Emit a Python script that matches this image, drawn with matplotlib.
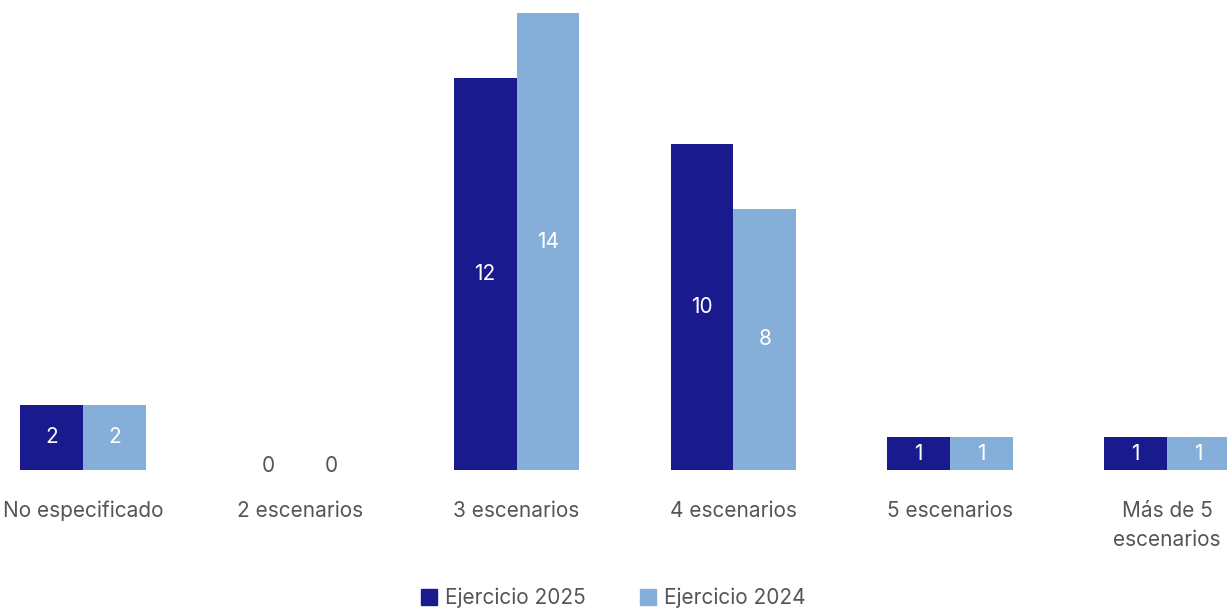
import matplotlib

matplotlib.use("Agg")

import matplotlib.pyplot as plt
import numpy as np
from matplotlib.patches import Patch

# Datos del gráfico
categorias = ["No especificado", "2 escenarios", "3 escenarios",
              "4 escenarios", "5 escenarios", "Más de 5\nescenarios"]
ejercicio_2025 = [2, 0, 12, 10, 1, 1]
ejercicio_2024 = [2, 0, 14, 8, 1, 1]
series_labels = ["Ejercicio 2025", "Ejercicio 2024"]

color_2025 = "#1a1a8f"
color_2024 = "#85aed8"
text_gray = "#555555"

plt.rcParams["font.family"] = ["Inter", "DejaVu Sans"]

fig = plt.figure(figsize=(12.27, 6.10), dpi=100)
ax = fig.add_axes([0.0, 1 - 470 / 610, 1.0, 457 / 610])

x = np.arange(len(categorias))
width = 0.29

bars_a = ax.bar(x - width / 2, ejercicio_2025, width, color=color_2025)
bars_b = ax.bar(x + width / 2, ejercicio_2024, width, color=color_2024)

for bars in (bars_a, bars_b):
    for b in bars:
        h = b.get_height()
        cx = b.get_x() + b.get_width() / 2
        if h > 0:
            ax.text(cx, h / 2, f"{h:g}", ha="center", va="center",
                    color="white", fontsize=15)
        else:
            ax.text(cx, 0.12, "0", ha="center", va="center",
                    color=text_gray, fontsize=15)

ax.set_xlim(-0.383, 5.277)
ax.set_ylim(0, 14)
ax.set_xticks(x)
ax.set_xticklabels(categorias, fontsize=15, color=text_gray, linespacing=1.6)
ax.tick_params(axis="x", length=0, pad=22)
ax.set_yticks([])
for s in ax.spines.values():
    s.set_visible(False)

handles = [Patch(color=color_2025), Patch(color=color_2024)]
fig.legend(handles, series_labels, loc="center", bbox_to_anchor=(0.5, 1 - 598 / 610),
           ncol=2, frameon=False, fontsize=15, handlelength=0.75, handleheight=0.75,
           handletextpad=0.4, columnspacing=2.6, labelcolor=text_gray)

fig.savefig("out.png", dpi=100)
